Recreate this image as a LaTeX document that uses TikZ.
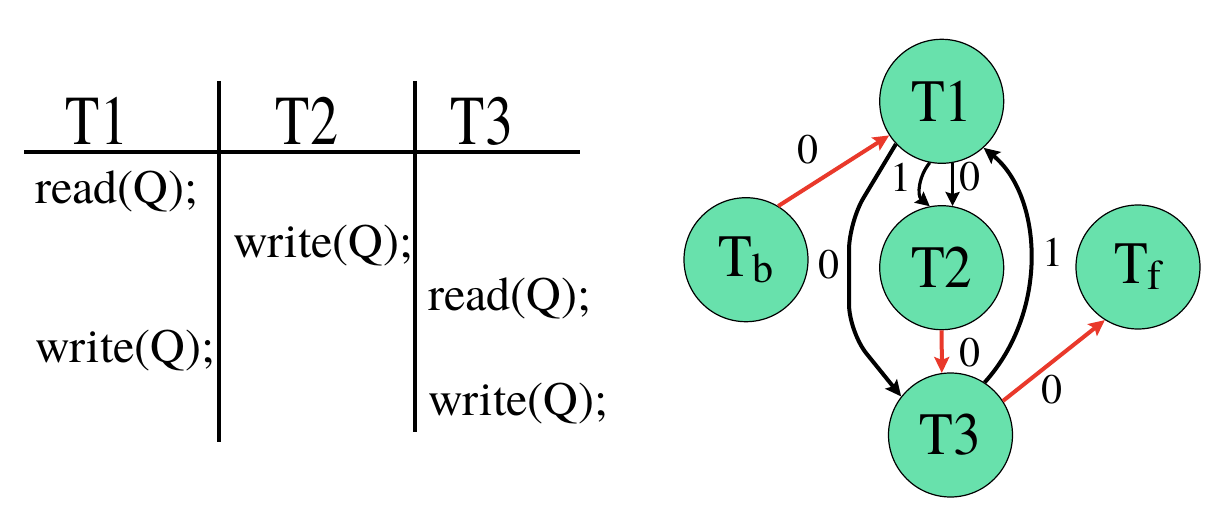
\documentclass[tikz,border=0pt]{standalone}
\usepackage{fontspec}
\newfontfamily\tnr{TeX Gyre Termes}
\usetikzlibrary{arrows.meta}
\definecolor{nodegreen}{RGB}{104,225,172}
\definecolor{arrred}{RGB}{233,57,43}
\tikzset{
  body/.style={anchor=base west, inner sep=0pt, font=\tnr\fontsize{48}{48}\selectfont},
  head/.style={anchor=base, inner sep=0pt, font=\tnr\fontsize{70}{70}\selectfont},
  tline/.style={line width=4.5pt, line cap=butt},
  st/.style={circle, draw=black, line width=1.2pt, fill=nodegreen, minimum size=124pt, inner sep=0pt, font=\tnr\fontsize{60}{60}\selectfont},
  lbl/.style={inner sep=0pt, font=\tnr\fontsize{42}{42}\selectfont},
  blk/.style={draw=black, line width=4pt, -{Stealth[length=16pt,width=15pt,inset=3pt]}},
  blkthin/.style={draw=black, line width=3.2pt, -{Stealth[length=14pt,width=14pt,inset=2pt]}},
  redarr/.style={draw=arrred, line width=4pt, -{Stealth[length=16pt,width=15pt,inset=3pt]}}
}
\newcommand{\subt}[1]{\raisebox{-6pt}{\tnr\fontsize{42}{42}\selectfont #1}}
\begin{document}
\begin{tikzpicture}[x=1pt,y=-1pt]
\useasboundingbox (0,0) rectangle (1208,516);
% ---- table ----
\draw[tline] (24,152) -- (580,152);
\draw[tline] (219,81) -- (219,442);
\draw[tline] (415,81) -- (415,432);
\node[head] (h1) at (97,145) {\scalebox{0.8}[1]{T1}};
\node[head] (h2) at (307,145) {\scalebox{0.8}[1]{T2}};
\node[head] (h3) at (482,145) {\scalebox{0.8}[1]{T3}};
\node[body] (r1) at (35,204) {read(Q);};
\node[body] (w2) at (233,257) {write(Q);};
\node[body] (r3) at (428,310) {read(Q);};
\node[body] (w1) at (35,362) {write(Q);};
\node[body] (w3) at (428,415) {write(Q);};
% ---- graph ----
\node[st] (t1) at (941.7,101.3) {\scalebox{0.92}[1]{T1}};
\node[st] (tb) at (746,259.7) {\scalebox{0.92}[1]{T}\subt{b}};
\node[st] (t2) at (941.7,267.7) {\scalebox{0.92}[1]{T2}};
\node[st] (tf) at (1138,267) {\scalebox{0.92}[1]{T}\subt{f}};
\node[st] (t3) at (950.5,435) {\scalebox{0.92}[1]{T3}};
% edges
\draw[redarr] (tb.59) -- (t1.213);
\draw[blkthin] (t1.-80) -- (t2.80);
\draw[blkthin] (t1.-101) to[out=-130, in=140] (t2.101);
\draw[blk, rounded corners=28pt] (t1.223) -- (849,222) -- (849,332) -- (t3.142);
\draw[blk] (t3.57) .. controls (1050,310) and (1042,195) .. (t1.-48);
\draw[redarr] (t2.-90) -- (t3.98);
\draw[redarr] (t3.33) -- (tf.238);
% labels
\node[lbl] (l1) at (808,150) {0};
\node[lbl] (l2) at (901,177) {1};
\node[lbl] (l3) at (970,177) {0};
\node[lbl] (l4) at (829,265) {0};
\node[lbl] (l5) at (1053,252) {1};
\node[lbl] (l6) at (970,353) {0};
\node[lbl] (l7) at (1052,390) {0};
\end{tikzpicture}
\end{document}
